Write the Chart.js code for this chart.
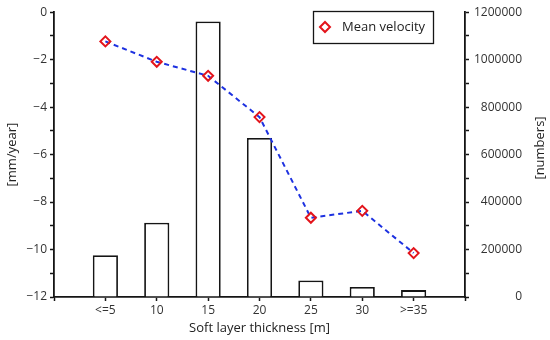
<!DOCTYPE html>
<html>
<head>
<meta charset="utf-8">
<script src="https://cdn.jsdelivr.net/npm/chart.js@4/dist/chart.umd.min.js"></script>
<style>
  html, body { margin: 0; padding: 0; background: #fff; }
  #wrap { width: 550px; height: 340px; }
</style>
</head>
<body>
<div id="wrap"><canvas id="thicknessChart" width="550" height="340"></canvas></div>
<script>
// data
const categories = ['<=5', '10', '15', '20', '25', '30', '>=35'];
const countValues = [176000, 313000, 1161000, 670000, 70000, 42000, 29000];
const meanVelocity = [-1.23, -2.09, -2.68, -4.42, -8.66, -8.37, -10.15];

// empty slots at both ends so categories sit at 1..7 on a 0..8 axis
const paddedLabels = [''].concat(categories, ['']);
const paddedCounts = [null].concat(countValues, [null]);
const paddedVelocity = [null].concat(meanVelocity, [null]);

const FONT = "'Open Sans', 'DejaVu Sans', sans-serif";
const RED = '#e3141b';
const BLUE = '#1d31e0';
const INK = '#151515';

//////////////////////////////////////////////
// legend box inside the plot + right axis title
//////////////////////////////////////////////
const extrasPlugin = {
    id: 'extras',
    afterDraw(chart) {
        const ctx = chart.ctx;
        const ds = chart.data.datasets[0];
        ctx.save();
        // legend
        ctx.strokeStyle = INK;
        ctx.lineWidth = 1.3;
        ctx.strokeRect(313.5, 11.5, 120, 32);
        ctx.strokeStyle = ds.pointBorderColor;
        ctx.fillStyle = 'rgba(0,0,0,0)';
        ctx.lineWidth = 2;
        Chart.helpers.drawPoint(ctx, { pointStyle: 'rectRot', radius: 5, borderWidth: 2 }, 325, 27);
        ctx.fillStyle = '#222';
        ctx.font = '13px ' + FONT;
        ctx.textAlign = 'left';
        ctx.textBaseline = 'middle';
        ctx.fillText(ds.label, 342, 27);
        // right axis title, reads bottom to top
        ctx.translate(540, 148);
        ctx.rotate(-Math.PI / 2);
        ctx.textAlign = 'center';
        ctx.fillText('[numbers]', 0, 0);
        ctx.restore();
    }
};

function axisGrid() {
    return {
        display: true,
        offset: false,
        drawOnChartArea: false,
        drawTicks: true,
        tickLength: 4,
        tickColor: INK,
        tickWidth: 1.5
    };
}

function initChart() {
    const ctx = document.getElementById('thicknessChart').getContext('2d');
    return new Chart(ctx, {
        type: 'bar',
        data: {
            labels: paddedLabels,
            datasets: [
                {
                    type: 'line',
                    label: 'Mean velocity',
                    data: paddedVelocity,
                    yAxisID: 'y',
                    borderColor: BLUE,
                    borderWidth: 2,
                    borderDash: [5, 4],
                    pointStyle: 'rectRot',
                    pointRadius: 5,
                    pointBorderWidth: 2,
                    pointBorderColor: RED,
                    pointBackgroundColor: 'rgba(0,0,0,0)',
                    fill: false,
                    tension: 0,
                    order: 0
                },
                {
                    type: 'bar',
                    label: 'numbers',
                    data: paddedCounts,
                    yAxisID: 'y1',
                    backgroundColor: '#fff',
                    borderColor: INK,
                    borderWidth: 1.8,
                    categoryPercentage: 1,
                    barPercentage: 0.49,
                    order: 1
                }
            ]
        },
        options: {
            responsive: false,
            animation: false,
            layout: { padding: { top: 10, left: 0, right: 28, bottom: 0 } },
            plugins: {
                legend: { display: false },
                tooltip: { enabled: false }
            },
            scales: {
                x: {
                    offset: false,
                    afterFit: s => { s.height = 43; },
                    grid: axisGrid(),
                    border: { display: true, color: INK, width: 1.8 },
                    ticks: {
                        color: '#333',
                        font: { family: FONT, size: 12 },
                        padding: 2,
                        maxRotation: 0,
                        autoSkip: false
                    },
                    title: {
                        display: true,
                        text: 'Soft layer thickness [m]',
                        color: '#222',
                        font: { family: FONT, size: 13 },
                        padding: { top: 0, bottom: 4 }
                    }
                },
                y: {
                    position: 'left',
                    min: -12,
                    max: 0,
                    afterFit: s => { s.width = 54; },
                    grid: axisGrid(),
                    border: { display: true, color: INK, width: 1.8 },
                    ticks: {
                        stepSize: 1,
                        color: '#333',
                        font: { family: FONT, size: 12 },
                        padding: 3,
                        callback: v => (v % 2 === 0 ? (v < 0 ? '\u2212' + Math.abs(v) : String(v)) : '')
                    },
                    title: {
                        display: true,
                        text: '[mm/year]',
                        color: '#222',
                        font: { family: FONT, size: 13 },
                        padding: { top: 4, bottom: 0 }
                    }
                },
                y1: {
                    position: 'right',
                    min: 0,
                    max: 1200000,
                    afterFit: s => { s.width = 57; },
                    grid: axisGrid(),
                    border: { display: true, color: INK, width: 1.8 },
                    ticks: {
                        stepSize: 100000,
                        color: '#333',
                        font: { family: FONT, size: 12 },
                        padding: 5,
                        crossAlign: 'far',
                        callback: v => (v % 200000 === 0 ? String(v) : '')
                    }
                }
            }
        },
        plugins: [extrasPlugin]
    });
}

document.addEventListener('DOMContentLoaded', () => {
    initChart();
});
</script>
</body>
</html>
